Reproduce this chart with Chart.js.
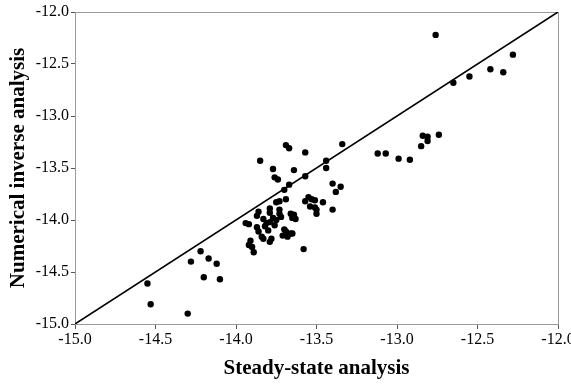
<!DOCTYPE html>
<html>
<head>
<meta charset="utf-8">
<script src="https://cdn.jsdelivr.net/npm/chart.js@4"></script>
<style>
  html, body { margin: 0; padding: 0; background: #fff; }
  #wrap { width: 571px; height: 385px; }
</style>
</head>
<body>
<div id="wrap"><canvas id="chart" width="571" height="385"></canvas></div>
<script>
// steady-state (x) vs numerical inverse (y)
const steadyState = [
  -14.55, -14.53, -14.30, -14.28, -14.22, -14.17, -14.12, -14.20, -14.10,
  -12.76, -12.28, -12.34, -12.42, -12.55, -12.65, -12.74, -12.81, -12.84, -12.81,
  -12.85, -12.92, -12.99, -13.07, -13.12,
  -13.69, -13.67, -13.34, -13.57, -13.85, -13.77, -13.64, -13.44, -13.44, -13.57,
  -13.76, -13.74, -13.67, -13.70, -13.40, -13.35, -13.38, -13.69, -13.75, -13.73,
  -13.55, -13.57, -13.53, -13.51, -13.46, -13.54, -13.50, -13.51, -13.40, -13.50,
  -13.86, -13.79, -13.79, -13.73, -13.73, -13.87, -13.83, -13.77, -13.75, -13.72,
  -13.66, -13.64, -13.65, -13.63, -13.94, -13.92, -13.81, -13.79, -13.76, -13.82,
  -13.87, -13.86, -13.80, -13.70, -13.69, -13.66, -13.71, -13.68, -13.65, -13.84,
  -13.83, -13.78, -13.79, -13.91, -13.92, -13.90, -13.89, -13.58
];
const inverseAnalysis = [
  -14.61, -14.81, -14.90, -14.40, -14.30, -14.37, -14.42, -14.55, -14.57,
  -12.22, -12.41, -12.58, -12.55, -12.62, -12.68, -13.18, -13.20, -13.19, -13.24,
  -13.29, -13.42, -13.41, -13.36, -13.36,
  -13.28, -13.31, -13.27, -13.35, -13.43, -13.51, -13.52, -13.43, -13.50, -13.58,
  -13.59, -13.61, -13.66, -13.71, -13.65, -13.68, -13.73, -13.80, -13.83, -13.82,
  -13.78, -13.82, -13.80, -13.81, -13.83, -13.87, -13.90, -13.88, -13.90, -13.94,
  -13.92, -13.89, -13.93, -13.90, -13.94, -13.96, -13.99, -13.98, -14.00, -13.97,
  -13.94, -13.95, -13.98, -13.99, -14.03, -14.04, -14.03, -14.02, -14.05, -14.06,
  -14.07, -14.11, -14.10, -14.09, -14.11, -14.13, -14.15, -14.16, -14.13, -14.16,
  -14.18, -14.18, -14.21, -14.20, -14.24, -14.26, -14.31, -14.28
];
const axisMin = -15;
const axisMax = -12;
const tickStep = 0.5;
const xTitle = "Steady-state analysis";
const yTitle = "Numerical inverse analysis";

const points = steadyState.map((x, i) => ({ x: x, y: inverseAnalysis[i] }));
const diagonal = [{ x: axisMin, y: axisMin }, { x: axisMax, y: axisMax }];

const serif = "'Liberation Serif', 'Times New Roman', serif";

// light frame around the plot area
const frame = {
  id: "frame",
  beforeDatasetsDraw(chart) {
    const a = chart.chartArea;
    const ctx = chart.ctx;
    ctx.save();
    ctx.strokeStyle = "#9a9a9a";
    ctx.lineWidth = 1;
    ctx.strokeRect(a.left + 0.5, a.top + 0.5, a.right - a.left, a.bottom - a.top);
    ctx.restore();
  }
};

new Chart(document.getElementById("chart"), {
  type: "scatter",
  data: {
    datasets: [
      {
        data: diagonal,
        showLine: true,
        borderColor: "#000",
        borderWidth: 1.6,
        pointRadius: 0,
        order: 2
      },
      {
        data: points,
        backgroundColor: "#000",
        borderColor: "#000",
        pointRadius: 3.2,
        borderWidth: 0,
        order: 1
      }
    ]
  },
  options: {
    responsive: false,
    animation: false,
    layout: { padding: { top: 12, right: 13, left: 0, bottom: 0 } },
    plugins: {
      legend: { display: false },
      tooltip: { enabled: false }
    },
    scales: {
      x: {
        type: "linear",
        min: axisMin,
        max: axisMax,
        ticks: {
          stepSize: tickStep,
          color: "#000",
          font: { family: serif, size: 16 },
          padding: 1,
          maxRotation: 0,
          callback: v => v.toFixed(1)
        },
        grid: { drawOnChartArea: false, tickLength: 5, color: "#555" },
        border: { color: "#9a9a9a" },
        title: {
          display: true,
          text: xTitle,
          color: "#000",
          font: { family: serif, size: 21, weight: "bold" },
          padding: { top: 8, bottom: 4 }
        },
        afterFit(scale) {
          scale.height = 61;
          scale.paddingLeft = 0;
          scale.paddingRight = 0;
        }
      },
      y: {
        type: "linear",
        min: axisMin,
        max: axisMax,
        ticks: {
          stepSize: tickStep,
          color: "#000",
          font: { family: serif, size: 16 },
          padding: 2,
          callback: v => v.toFixed(1)
        },
        grid: { drawOnChartArea: false, tickLength: 4, color: "#555" },
        border: { color: "#9a9a9a" },
        title: {
          display: true,
          text: yTitle,
          color: "#000",
          font: { family: serif, size: 21, weight: "bold" },
          padding: { top: 6, bottom: 2 }
        },
        afterFit(scale) {
          scale.width = 75;
          scale.paddingTop = 0;
          scale.paddingBottom = 0;
        }
      }
    }
  },
  plugins: [frame]
});
</script>
</body>
</html>
